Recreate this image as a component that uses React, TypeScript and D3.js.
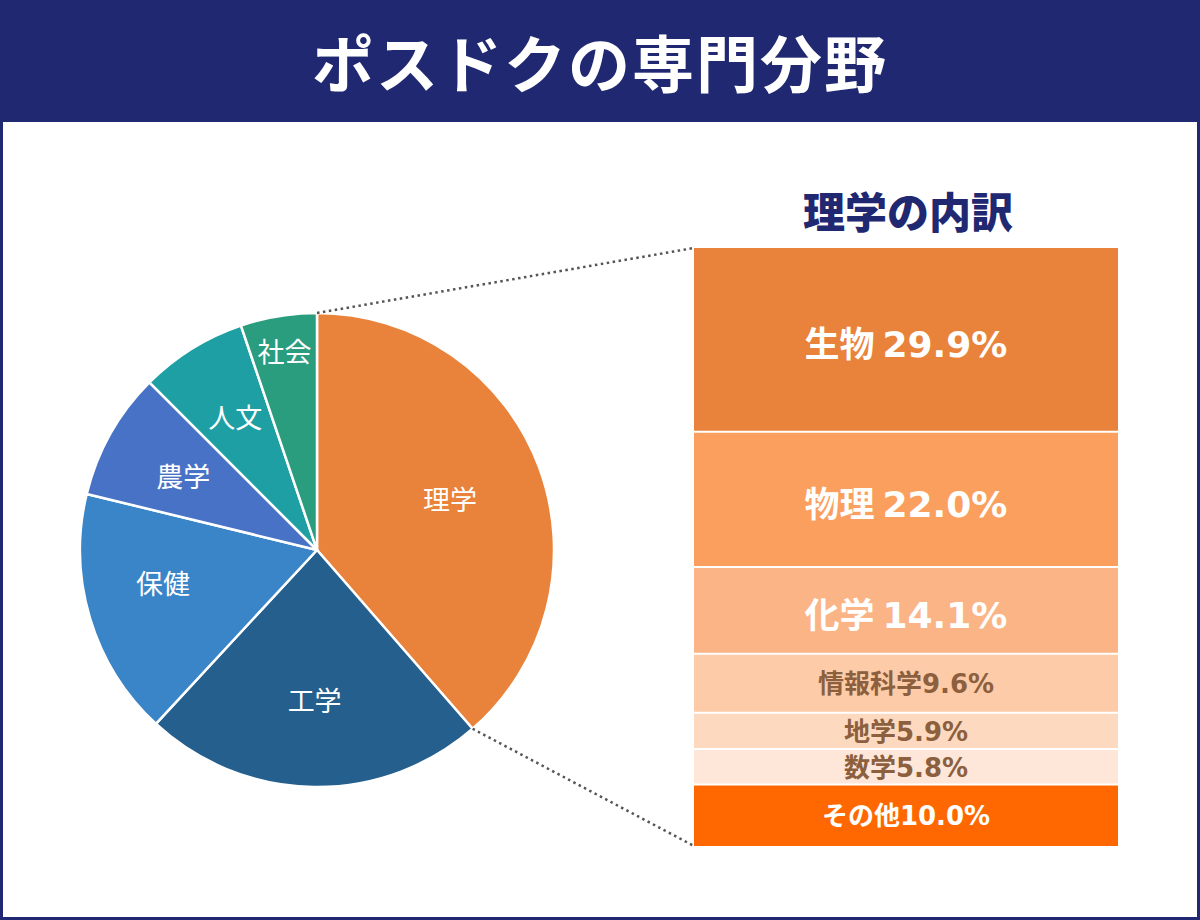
import React from "react";
import * as d3 from "d3";

// 専門分野の割合 (%)
const fields = ["理学", "工学", "保健", "農学", "人文", "社会"];
const fieldShares = [38.6, 23.3, 16.9, 8.7, 7.3, 5.2];
const fieldColors = ["#E9823A", "#245F8D", "#3A84C8", "#4872C5", "#1D9FA4", "#2A9D7E"];

// 理学の内訳 (%)
const subjects = ["生物", "物理", "化学", "情報科学", "地学", "数学", "その他"];
const subjectShares = [29.9, 22.0, 14.1, 9.6, 5.9, 5.8, 10.0];
const subjectColors = ["#E9823A", "#FB9F5F", "#FBB486", "#FDCBA7", "#FDDABF", "#FEE7D9", "#FF6800"];
const subjectTextColors = ["#fff", "#fff", "#fff", "#8C5F3E", "#8C5F3E", "#8C5F3E", "#fff"];
const subjectFontSizes = [35, 35, 35, 26, 26, 26, 26];

const W = 1200;
const H = 920;
const NAVY = "#1F2870";
const FONT = "'Noto Sans CJK JP', 'Noto Sans', sans-serif";
const NUM_FONT = "'DejaVu Sans', 'Noto Sans CJK JP', sans-serif";

export default function App() {
  const cx = 317;
  const cy = 550;
  const r = 237;

  const pie = d3.pie<number>().sort(null).value((d) => d);
  const arcs = pie(fieldShares);
  const arc = d3.arc<d3.PieArcDatum<number>>().innerRadius(0).outerRadius(r);
  // label placement per slice: radius and a small angular nudge (deg)
  const labelR = [142, 152, 158, 152, 155, 200];
  const labelNudge = [0, 0, 4, -1, 0, 0];

  // stacked bar for 理学の内訳
  const barX = 694;
  const barW = 424;
  const total = d3.sum(subjectShares);
  const y = d3.scaleLinear().domain([0, total]).range([248, 846]);
  const cum = d3.cumsum(subjectShares);
  const starts = subjectShares.map((v, i) => cum[i] - v);

  // dotted connector endpoints on the 理学 slice edge
  const a0 = arcs[0].startAngle;
  const a1 = arcs[0].endAngle;
  const p0 = [cx + r * Math.sin(a0), cy - r * Math.cos(a0)];
  const p1 = [cx + r * Math.sin(a1), cy - r * Math.cos(a1)];

  return (
    <svg
      width={W}
      height={H}
      viewBox={`0 0 ${W} ${H}`}
      style={{ position: "absolute", left: 0, top: 0, fontFamily: FONT }}
    >
      <rect x={0} y={0} width={W} height={H} fill="#fff" />
      <rect x={0} y={0} width={W} height={122} fill={NAVY} />
      <rect x={1.5} y={1.5} width={W - 3} height={H - 3} fill="none" stroke={NAVY} strokeWidth={3} />
      <text x={600} y={88} textAnchor="middle" fill="#fff" fontSize={62} fontWeight={700} letterSpacing={2}>
        ポスドクの専門分野
      </text>

      <g transform={`translate(${cx},${cy})`}>
        {arcs.map((a, i) => (
          <path key={fields[i]} d={arc(a) || ""} fill={fieldColors[i]} stroke="#fff" strokeWidth={2.5} strokeLinejoin="round" />
        ))}
        {arcs.map((a, i) => {
          const mid = (a.startAngle + a.endAngle) / 2 + (labelNudge[i] * Math.PI) / 180;
          return (
            <text
              key={"l" + fields[i]}
              x={labelR[i] * Math.sin(mid)}
              y={-labelR[i] * Math.cos(mid)}
              dy="0.35em"
              textAnchor="middle"
              fill="#fff"
              fontSize={27}
            >
              {fields[i]}
            </text>
          );
        })}
      </g>

      <line x1={p0[0]} y1={p0[1]} x2={barX} y2={y(0)} stroke="#555" strokeWidth={2.5} strokeDasharray="2.5 3.5" />
      <line x1={p1[0]} y1={p1[1]} x2={barX} y2={y(total)} stroke="#555" strokeWidth={2.5} strokeDasharray="2.5 3.5" />

      <text x={908} y={228} textAnchor="middle" fill={NAVY} fontSize={42} fontWeight={900}>
        理学の内訳
      </text>

      {subjects.map((s, i) => (
        <rect
          key={s}
          x={barX}
          y={y(starts[i])}
          width={barW}
          height={y(cum[i]) - y(starts[i])}
          fill={subjectColors[i]}
        />
      ))}
      {subjects.slice(1).map((s, i) => (
        <line key={"sep" + s} x1={barX} x2={barX + barW} y1={y(starts[i + 1])} y2={y(starts[i + 1])} stroke="#fff" strokeWidth={2} />
      ))}
      {subjects.map((s, i) => (
        <text
          key={"t" + s}
          x={barX + barW / 2}
          y={(y(starts[i]) + y(cum[i])) / 2}
          dy={i < 3 ? "0.5em" : "0.38em"}
          textAnchor="middle"
          fill={subjectTextColors[i]}
          fontSize={subjectFontSizes[i]}
          fontWeight={700}
        >
          {i < 3 ? `${s} ` : s}
          <tspan fontFamily={NUM_FONT} fontSize={i < 3 ? 36 : 26}>{`${subjectShares[i].toFixed(1)}%`}</tspan>
        </text>
      ))}
    </svg>
  );
}
